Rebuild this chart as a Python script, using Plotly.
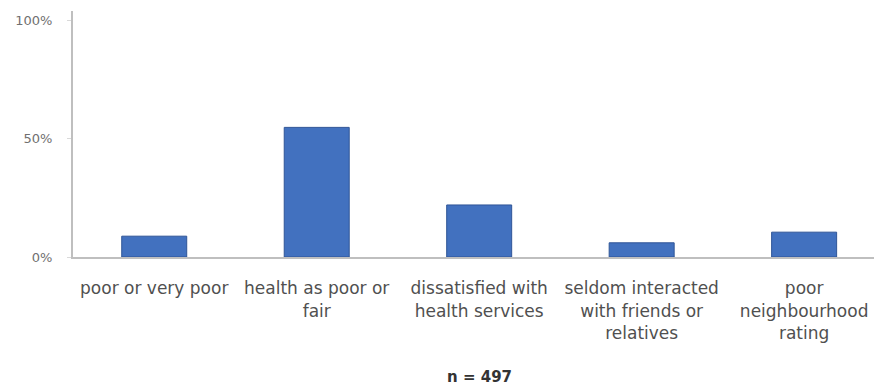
import plotly.graph_objects as go

categories = [
    "poor or very poor",
    "health as poor or<br>fair",
    "dissatisfied with<br>health services",
    "seldom interacted<br>with friends or<br>relatives",
    "poor<br>neighbourhood<br>rating",
]
values = [8.8, 54.8, 22.0, 6.0, 10.5]
ytick_vals = [0, 50, 100]
ytick_text = ["0%", "50%", "100%"]
note = "n = 497"

fig = go.Figure()
fig.add_trace(go.Bar(
    x=list(range(len(categories))),
    y=values,
    width=0.40,
    marker=dict(color="#4271BF", line=dict(color="#2F5597", width=1)),
))

fig.update_layout(
    width=874, height=388,
    margin=dict(l=73, r=0, t=11, b=131),
    paper_bgcolor="white", plot_bgcolor="white",
    showlegend=False,
    font=dict(family="DejaVu Sans", color="#555555"),
    bargap=0.6,
)
fig.update_xaxes(
    tickmode="array",
    tickvals=list(range(len(categories))),
    ticktext=categories,
    range=[-0.5, 4.43],
    showline=True, linecolor="#BFBFBF", linewidth=2,
    ticks="", showgrid=False, zeroline=False,
    tickfont=dict(size=17, color="#505050", family="DejaVu Sans"),
    ticklabelstandoff=15,
)
fig.update_yaxes(
    range=[0, 104],
    tickmode="array",
    tickvals=ytick_vals,
    ticktext=ytick_text,
    showline=True, linecolor="#BFBFBF", linewidth=2,
    ticks="outside", ticklen=4, tickcolor="#D9D9D9",
    showgrid=False, zeroline=False,
    tickfont=dict(size=13, color="#707070", family="DejaVu Sans"),
    ticklabelstandoff=12,
)
fig.add_annotation(
    x=2, xref="x", y=-0.488, yref="paper",
    text="<b>" + note + "</b>", showarrow=False,
    font=dict(size=15, color="#333333", family="DejaVu Sans"),
    xanchor="center", yanchor="middle",
)
fig.write_html("out.html")
